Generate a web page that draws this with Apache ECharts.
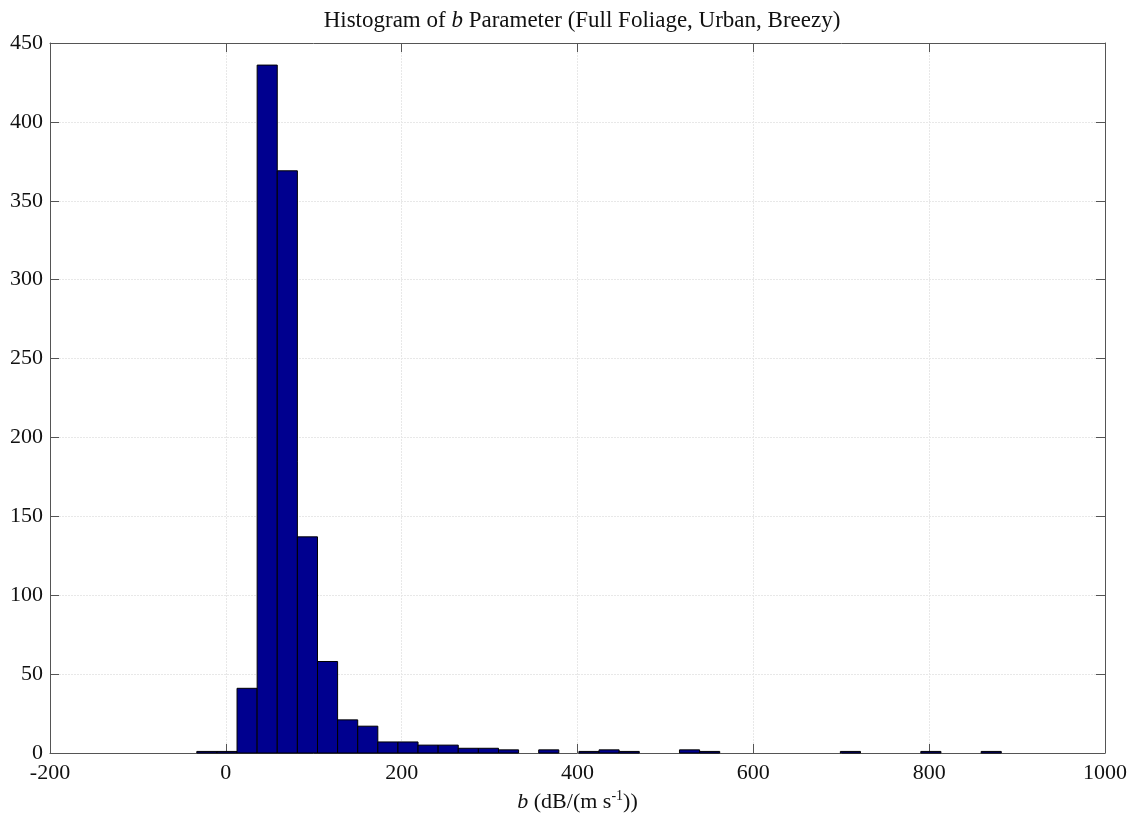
<!DOCTYPE html>
<html>
<head>
<meta charset="utf-8">
<title>Histogram of b Parameter</title>
<script src="https://cdn.jsdelivr.net/npm/echarts@6/dist/echarts.min.js"></script>
<style>
  html, body { margin: 0; padding: 0; background: #fff; }
  #chart { width: 1138px; height: 819px; }
</style>
</head>
<body>
<div id="chart"></div>
<script>
// Histogram range (data min/max) and number of equal-width bins
const binLow = -33;
const binHigh = 882;
const binCount = 40;

// Counts per bin, left to right
const counts = [
  1, 1, 41, 436, 369, 137, 58, 21, 17, 7,
  7, 5, 5, 3, 3, 2, 0, 2, 0, 1,
  2, 1, 0, 0, 2, 1, 0, 0, 0, 0,
  0, 0, 1, 0, 0, 0, 1, 0, 0, 1
];

// Axis ranges and tick steps
const xTicks = { min: -200, max: 1000, interval: 200 };
const yTicks = { min: 0, max: 450, interval: 50 };

const binWidth = (binHigh - binLow) / binCount;
const bins = counts.map((c, i) => [binLow + i * binWidth, binLow + (i + 1) * binWidth, c]);

const serif = '"Liberation Serif", "DejaVu Serif", serif';
const axisColor = '#555';
const textColor = '#111';

const chart = echarts.init(document.getElementById('chart'), null, { renderer: 'canvas' });

const baseAxisLine = { show: true, onZero: false, lineStyle: { color: axisColor, width: 1 } };
const tickStyle = { show: true, inside: true, length: 9, lineStyle: { color: axisColor, width: 1 } };
const gridLine = { show: true, lineStyle: { color: '#e8e8e8', width: 1, type: [2, 1] } };
const plainNumber = v => String(v);

chart.setOption({
  animation: false,
  backgroundColor: '#fff',
  title: {
    text: 'Histogram of {i|b} Parameter (Full Foliage, Urban, Breezy)',
    left: 577,
    textAlign: 'center',
    top: 4,
    textStyle: {
      fontFamily: serif, fontSize: 23, fontWeight: 'normal', color: textColor,
      rich: { i: { fontFamily: serif, fontSize: 23, fontStyle: 'italic', color: textColor } }
    }
  },
  grid: { left: 50, right: 33, top: 43, bottom: 66, containLabel: false, outerBoundsMode: 'none' },
  xAxis: [
    {
      type: 'value', min: xTicks.min, max: xTicks.max, interval: xTicks.interval,
      position: 'bottom',
      axisLine: baseAxisLine, axisTick: tickStyle,
      axisLabel: { fontFamily: serif, fontSize: 22, color: textColor, margin: 9, formatter: plainNumber },
      splitLine: gridLine,
      name: '{i|b} (dB/(m s{s|-1}))',
      nameLocation: 'middle', nameGap: 35,
      nameTextStyle: {
        fontFamily: serif, fontSize: 22, color: textColor, lineHeight: 26,
        rich: {
          i: { fontFamily: serif, fontSize: 22, fontStyle: 'italic', color: textColor, lineHeight: 26 },
          s: { fontFamily: serif, fontSize: 14, color: textColor, verticalAlign: 'top', lineHeight: 18 }
        }
      }
    },
    {
      type: 'value', min: xTicks.min, max: xTicks.max, interval: xTicks.interval,
      position: 'top',
      axisLine: baseAxisLine, axisTick: tickStyle,
      axisLabel: { show: false }, splitLine: { show: false }
    }
  ],
  yAxis: [
    {
      type: 'value', min: yTicks.min, max: yTicks.max, interval: yTicks.interval,
      position: 'left',
      axisLine: baseAxisLine, axisTick: tickStyle,
      axisLabel: { fontFamily: serif, fontSize: 22, color: textColor, margin: 7, formatter: plainNumber },
      splitLine: gridLine
    },
    {
      type: 'value', min: yTicks.min, max: yTicks.max, interval: yTicks.interval,
      position: 'right',
      axisLine: baseAxisLine, axisTick: tickStyle,
      axisLabel: { show: false }, splitLine: { show: false }
    }
  ],
  series: [
    {
      type: 'custom',
      xAxisIndex: 0, yAxisIndex: 0,
      data: bins,
      encode: { x: [0, 1], y: 2 },
      renderItem: function (params, api) {
        const c = api.value(2);
        if (!c) return null;
        const p0 = api.coord([api.value(0), c]);
        const p1 = api.coord([api.value(1), 0]);
        return {
          type: 'rect',
          shape: { x: p0[0], y: p0[1], width: p1[0] - p0[0], height: p1[1] - p0[1] },
          style: { fill: '#00008f', stroke: '#000', lineWidth: 1 }
        };
      },
      z: 3
    }
  ]
});
</script>
</body>
</html>
